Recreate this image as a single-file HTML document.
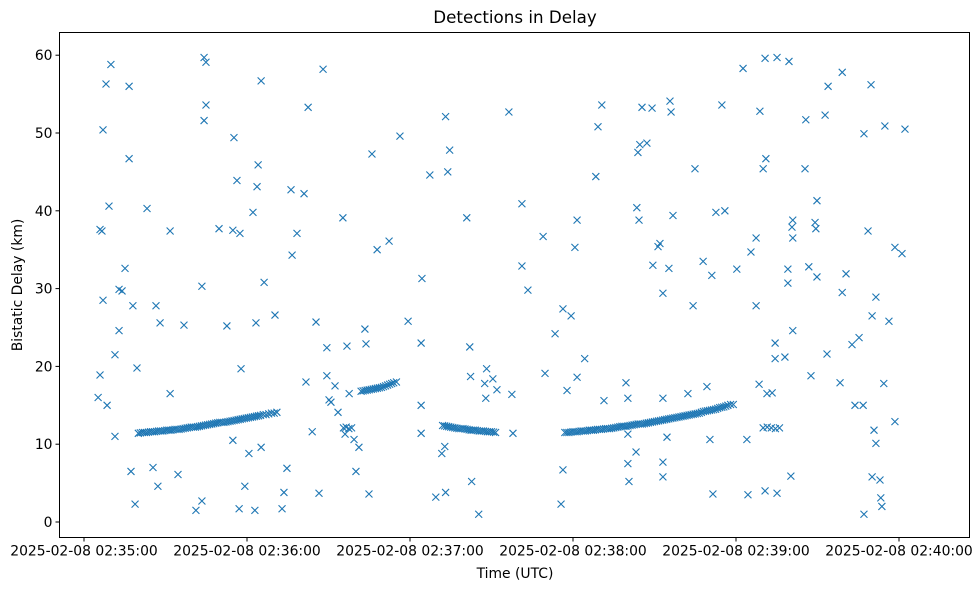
<!DOCTYPE html>
<html><head><meta charset="utf-8"><style>
body{margin:0;background:#fff;}
svg{display:block;font-family:"DejaVu Sans","Liberation Sans",sans-serif;}
</style></head><body>
<svg id="c" width="980" height="590">
<rect x="0" y="0" width="980" height="590" fill="#fff"/>
<text x="515" y="23" font-size="16.7" text-anchor="middle">Detections in Delay</text>
<text x="515" y="578" font-size="13.9" text-anchor="middle">Time (UTC)</text>
<text x="22" y="285" font-size="13.9" text-anchor="middle" transform="rotate(-90 22 285)">Bistatic Delay (km)</text>
<g id="marks"></g>
<g id="axes"></g>
</svg>
<script>
const scatterT=[5.2,5.9,5.9,6.6,7.0,7.0,8.1,8.5,9.2,9.9,11.4,11.4,12.9,12.9,14.0,15.1,16.6,16.6,17.3,18.0,18.8,19.5,23.2,25.4,26.5,27.2,28.0,31.7,31.7,34.6,36.8,41.2,43.4,43.4,44.2,44.9,44.2,44.9,49.7,52.6,55.2,54.8,54.8,56.3,57.1,57.8,57.4,59.2,60.7,62.2,62.9,63.3,63.7,64.1,65.2,65.2,66.3,70.3,72.9,73.6,74.7,76.2,76.6,78.4,81.0,81.7,82.5,84.0,85.4,86.5,88.0,89.4,89.4,90.2,90.9,92.4,93.5,95.3,96.1,96.8,97.6,99.4,100.1,101.2,103.4,103.8,104.9,106.0,107.9,112.3,116.3,119.3,124.1,124.1,124.4,124.1,127.3,129.5,131.7,132.8,133.1,133.1,133.9,134.6,140.9,142.0,142.3,142.7,145.3,147.5,148.2,147.9,150.5,152.0,156.4,157.5,157.9,161.2,161.2,163.4,169.0,169.7,173.4,175.6,176.3,176.3,177.8,179.3,180.7,181.5,181.5,184.3,188.4,189.2,190.6,191.4,199.5,200.2,200.2,200.2,200.6,203.2,203.5,203.9,204.3,204.6,205.4,207.2,209.1,209.4,211.3,212.0,213.1,213.1,213.1,213.1,214.6,215.3,215.7,216.1,216.8,222.3,224.2,224.9,227.9,229.3,230.4,231.1,231.5,232.6,234.8,235.9,240.3,242.6,244.0,244.4,245.5,247.4,247.4,248.5,248.8,250.0,250.7,251.0,250.7,251.4,253.3,254.4,254.4,255.1,255.1,258.0,259.5,259.1,259.1,260.2,260.6,260.9,260.9,260.9,265.4,265.7,266.8,267.6,269.4,269.1,269.8,269.8,272.8,273.5,273.9,278.3,279.1,279.1,280.5,282.7,283.8,285.3,286.8,287.1,287.1,288.6,289.7,290.1,290.1,290.8,291.5,291.5,293.0,293.3,293.7,294.4,294.8,296.3,298.5,298.5,301.1,302.2];
const scatterD=[16.0,18.9,37.6,37.4,50.4,28.5,56.3,15.0,40.6,58.8,21.5,11.0,24.6,29.9,29.7,32.6,56.0,46.7,6.5,27.8,2.3,19.8,40.3,7.0,27.8,4.6,25.6,16.5,37.4,6.1,25.3,1.5,30.3,2.7,59.7,59.1,51.6,53.6,37.7,25.2,49.4,37.5,10.5,43.9,1.7,19.7,37.1,4.6,8.8,39.8,1.5,25.6,43.1,45.9,56.7,9.6,30.8,26.6,1.7,3.8,6.9,42.7,34.3,37.1,42.2,18.0,53.3,11.6,25.7,3.7,58.2,22.4,18.8,15.7,15.4,17.5,14.1,39.1,11.3,22.6,16.5,10.6,6.5,9.6,24.8,22.9,3.6,47.3,35.0,36.1,49.6,25.8,23.0,11.4,31.3,15.0,44.6,3.2,8.8,9.7,3.8,52.1,45.0,47.8,39.1,22.5,18.7,5.2,1.0,17.8,19.7,15.9,18.4,17.0,52.7,16.4,11.4,40.9,32.9,29.8,36.7,19.1,24.2,2.3,6.7,27.4,16.9,26.5,35.3,18.6,38.8,21.0,44.4,50.8,53.6,15.6,17.9,15.9,11.3,7.5,5.2,9.0,40.4,47.5,38.8,48.5,53.3,48.7,53.2,33.0,35.4,35.8,29.4,15.9,7.7,5.8,10.9,32.6,54.1,52.7,39.4,16.5,27.8,45.4,33.5,17.4,10.6,31.7,3.6,39.8,53.6,40.0,32.5,58.3,10.6,3.5,34.7,36.5,27.8,17.7,52.8,45.4,59.6,46.7,4.0,16.5,16.6,23.0,21.0,59.7,3.7,21.2,59.2,32.5,30.7,5.9,37.9,24.6,38.8,36.5,45.4,51.7,32.8,18.8,37.7,38.5,41.3,31.5,52.3,21.6,56.0,17.9,57.8,29.5,31.9,22.8,15.0,23.7,15.0,49.9,1.0,37.4,56.2,26.5,5.8,11.8,28.9,10.1,5.4,3.1,2.0,17.8,50.9,25.8,12.9,35.3,34.5,50.5];
const trackT=[20,20.75,21.5,22.25,23,23.75,24.5,25.25,26,26.75,27.5,28.25,29,29.75,30.5,31.25,32,32.75,33.5,34.25,35,35.75,36.5,37.25,38,38.75,39.5,40.25,41,41.75,42.5,43.25,44,44.75,45.5,46.25,47,47.75,48.5,49.25,50,50.75,51.5,52.25,53,53.75,54.5,55.25,56,56.75,57.5,58.25,59,59.75,60.5,61.25,62,62.75,63.5,64.25,65,66,67,68,69,70,71,
102,102.75,103.5,104.25,105,105.75,106.5,107.25,108,108.75,109.5,110.25,111,111.75,112.5,113.25,114,115,
95.5,96.5,97.5,98.5,
132,132.75,133.5,134.25,135,135.75,136.5,137.25,138,138.75,139.5,140.25,141,141.75,142.5,143.25,144,144.75,145.5,146.25,147,147.75,148.5,149.25,150,150.75,151.5,
177,177.75,178.5,179.25,180,180.75,181.5,182.25,183,183.75,184.5,185.25,186,186.75,187.5,188.25,189,189.75,190.5,191.25,192,192.75,193.5,194.25,195,195.75,196.5,197.25,198,198.75,199.5,200.25,201,201.75,202.5,203.25,204,204.75,205.5,206.25,207,207.75,208.5,209.25,210,210.75,211.5,212.25,213,213.75,214.5,215.25,216,216.75,217.5,218.25,219,219.75,220.5,221.25,222,222.75,223.5,224.25,225,225.75,226.5,227.25,228,228.75,229.5,230.25,231,231.75,232.5,233.25,234,234.75,235.5,236.25,237,238,239,
250,251.5,253,254.5,256];
const trackD=[11.4,11.45,11.5,11.5,11.5,11.55,11.6,11.6,11.6,11.65,11.7,11.7,11.7,11.75,11.8,11.8,11.8,11.85,11.9,11.9,11.9,11.95,12.0,12.05,12.1,12.15,12.2,12.2,12.2,12.25,12.3,12.35,12.4,12.45,12.5,12.55,12.6,12.65,12.7,12.75,12.8,12.8,12.8,12.85,12.9,12.95,13.0,13.05,13.1,13.15,13.2,13.25,13.3,13.35,13.4,13.45,13.5,13.55,13.6,13.65,13.7,13.8,13.8,13.9,14.0,14.0,14.1,
16.8,16.85,16.9,16.95,17.0,17.05,17.1,17.15,17.2,17.25,17.3,17.4,17.5,17.6,17.7,17.8,17.9,18.0,
12.1,12.2,12.0,12.1,
12.4,12.35,12.3,12.25,12.2,12.15,12.1,12.05,12.0,12.0,12.0,11.95,11.9,11.85,11.8,11.8,11.8,11.75,11.7,11.7,11.7,11.65,11.6,11.6,11.6,11.55,11.5,
11.5,11.5,11.5,11.55,11.6,11.6,11.6,11.65,11.7,11.7,11.7,11.75,11.8,11.8,11.8,11.85,11.9,11.9,11.9,11.95,12.0,12.0,12.0,12.05,12.1,12.15,12.2,12.25,12.3,12.3,12.3,12.35,12.4,12.45,12.5,12.55,12.6,12.6,12.6,12.65,12.7,12.75,12.8,12.85,12.9,12.95,13.0,13.05,13.1,13.15,13.2,13.25,13.3,13.35,13.4,13.45,13.5,13.55,13.6,13.65,13.7,13.75,13.8,13.85,13.9,13.95,14.0,14.1,14.2,14.25,14.3,14.35,14.4,14.45,14.5,14.6,14.7,14.75,14.8,14.9,15.0,15.1,15.1,
12.1,12.2,12.1,12.0,12.1];
const xTickSec=[0,60,120,180,240,300];
const xTickLabels=["2025-02-08 02:35:00","2025-02-08 02:36:00","2025-02-08 02:37:00","2025-02-08 02:38:00","2025-02-08 02:39:00","2025-02-08 02:40:00"];
const yTicks=[0,10,20,30,40,50,60];

const NS="http://www.w3.org/2000/svg";
const L=59.5,R=969.5,T=32.5,B=537.5;
function xs(t){return 84+t*163/60;}
function ys(d){return 522-d*7.78;}
const marks=document.getElementById('marks');
const axes=document.getElementById('axes');
function mk(tag,attrs,parent){const e=document.createElementNS(NS,tag);for(const k in attrs)e.setAttribute(k,attrs[k]);parent.appendChild(e);return e;}
function drawX(t,d){
  const cx=xs(t),cy=ys(d),s=3.5;
  const p=mk('path',{d:`M${cx-s},${cy-s}L${cx+s},${cy+s}M${cx-s},${cy+s}L${cx+s},${cy-s}`,stroke:'#1f77b4','stroke-width':1.1,fill:'none'},marks);
  
  
}
for(let i=0;i<scatterT.length;i++)drawX(scatterT[i],scatterD[i]);
for(let i=0;i<trackT.length;i++)drawX(trackT[i],trackD[i]);

const frame=mk('rect',{x:L,y:T,width:R-L,height:B-T,fill:'none',stroke:'#000','stroke-width':1},axes);


for(let i=0;i<xTickSec.length;i++){
  const x=xs(xTickSec[i]);
  const tk=mk('line',{x1:x,x2:x,y1:B,y2:B+4,stroke:'#000'},axes);
  
  
  const tx=mk('text',{x:x,y:B+18,'font-size':13.9,'text-anchor':'middle'},axes);
  tx.textContent=xTickLabels[i];
  
  
}
for(const v of yTicks){
  const y=ys(v);
  const tk=mk('line',{x1:L-4,x2:L,y1:y,y2:y,stroke:'#000'},axes);
  
  
  const tx=mk('text',{x:L-7,y:y+5,'font-size':13.9,'text-anchor':'end'},axes);
  tx.textContent=v;
  
  
}
</script>
</body></html>
